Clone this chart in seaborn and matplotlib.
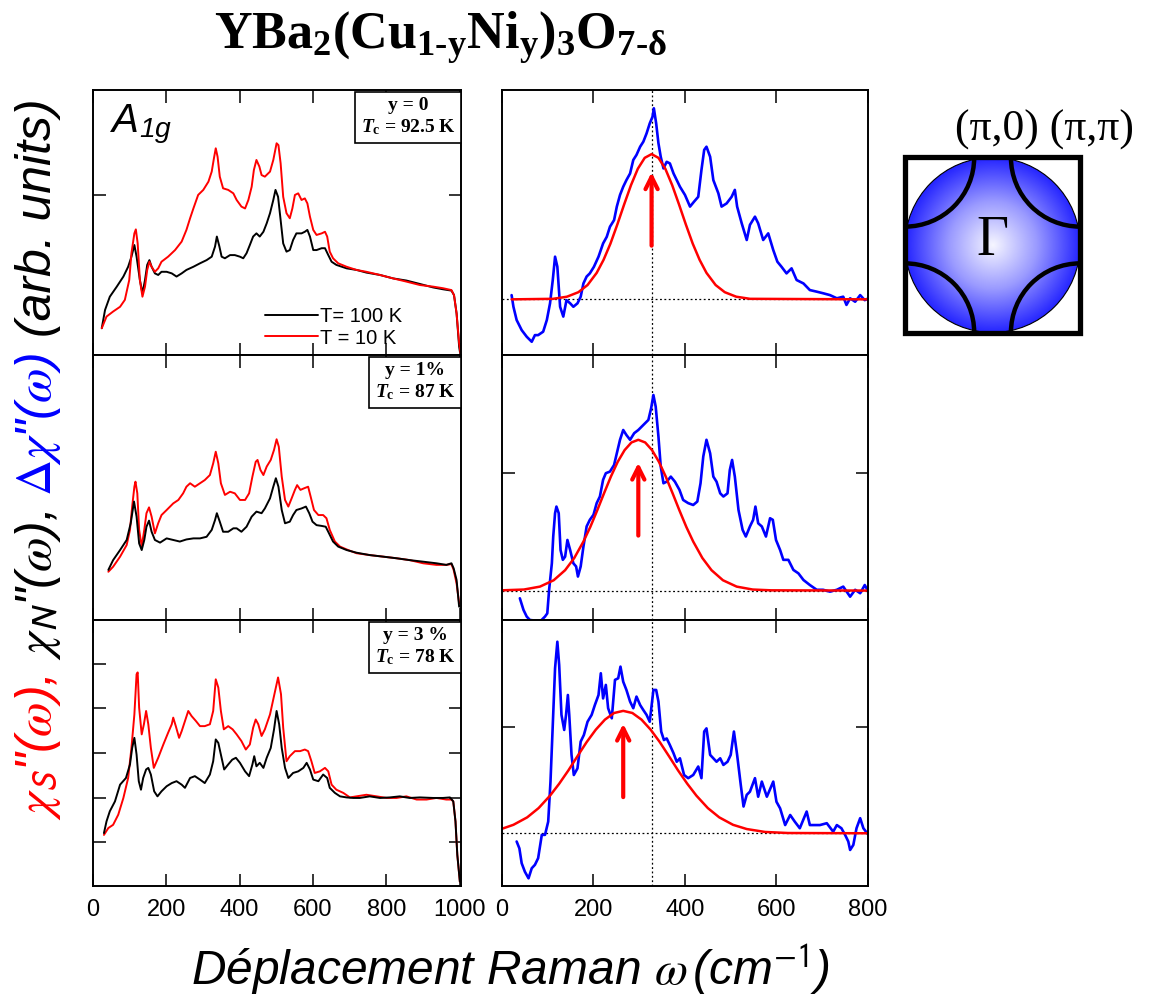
import numpy as np
import matplotlib
matplotlib.use('Agg')
import matplotlib.pyplot as plt
import seaborn as sns
from matplotlib.patches import Circle, Arc, Rectangle
from matplotlib.colors import LinearSegmentedColormap

# ---------------- data ----------------
# x: Raman shift (cm-1), y: arbitrary units

# y = 0 , A1g chi'' at 100 K and 10 K
tl_100k_x = [24, 33, 46, 65, 83, 96, 105, 113, 119, 128, 135, 142, 148, 154, 160, 169, 178, 187, 201, 215,
             228, 242, 255, 274, 292, 310, 324, 333, 338, 345, 351, 360, 374, 387, 401, 410, 419, 428, 437, 446,
             455, 465, 474, 483, 492, 498, 505, 512, 519, 528, 537, 546, 555, 569, 578, 585, 592, 601, 610, 624,
             633, 642, 651, 664, 692, 719, 746, 783, 819, 855, 892, 928, 955, 978, 985, 992, 999, 1001]
tl_100k_y = [1.01, 1.70, 2.20, 2.58, 2.96, 3.33, 3.71, 4.15, 3.71, 2.83, 2.33, 2.83, 3.40, 3.58, 3.33, 3.08, 3.02, 3.14, 3.14, 3.08,
             2.96, 3.08, 3.21, 3.33, 3.46, 3.58, 3.71, 4.09, 4.47, 4.09, 3.71, 3.65, 3.77, 3.77, 3.71, 3.65, 3.84, 4.15, 4.47, 4.59,
             4.47, 4.65, 4.97, 5.35, 5.85, 6.23, 5.97, 5.09, 4.21, 3.90, 3.96, 4.34, 4.59, 4.59, 4.65, 4.72, 4.47, 3.96, 3.96, 4.03,
             4.03, 3.77, 3.52, 3.40, 3.27, 3.21, 3.11, 3.02, 2.89, 2.81, 2.68, 2.55, 2.48, 2.43, 2.26, 1.57, 0.31, 0.13]
tl_10k_x = [24, 37, 55, 74, 87, 99, 105, 113, 117, 122, 128, 135, 142, 148, 154, 160, 169, 178, 187, 205,
            224, 242, 255, 265, 274, 287, 301, 315, 324, 330, 335, 340, 346, 355, 369, 383, 392, 405, 415, 424,
            433, 439, 446, 454, 460, 469, 483, 492, 501, 506, 512, 519, 528, 537, 544, 551, 560, 569, 578, 585,
            592, 601, 610, 624, 633, 639, 646, 655, 669, 692, 719, 746, 783, 819, 855, 892, 928, 955, 978, 985,
            992, 999, 1003]
tl_10k_y = [1.01, 1.45, 1.64, 1.82, 2.08, 2.83, 3.84, 4.59, 4.74, 4.21, 2.83, 2.20, 2.58, 3.21, 3.52, 3.33, 3.14, 3.27, 3.52, 3.71,
            3.96, 4.28, 4.72, 5.16, 5.53, 6.04, 6.23, 6.54, 6.92, 7.42, 7.80, 7.48, 6.73, 6.29, 6.23, 6.10, 5.85, 5.60, 5.53, 5.85,
            6.35, 6.98, 7.36, 7.11, 6.79, 6.73, 6.92, 7.36, 7.99, 7.92, 7.23, 5.97, 5.35, 5.16, 5.53, 6.04, 6.10, 5.85, 5.91, 5.72,
            5.22, 4.72, 4.53, 4.59, 4.65, 4.47, 3.90, 3.65, 3.46, 3.33, 3.21, 3.14, 3.02, 2.89, 2.77, 2.64, 2.58, 2.52, 2.45, 2.26,
            1.57, 0.44, 0.06]

# y = 1 %
ml_100k_x = [42, 55, 74, 92, 103, 112, 119, 126, 133, 140, 146, 153, 160, 169, 183, 201, 219, 237, 255, 274,
             292, 310, 324, 333, 338, 346, 355, 369, 383, 392, 405, 419, 433, 446, 460, 469, 483, 492, 499, 506,
             515, 524, 537, 546, 555, 569, 581, 590, 599, 610, 624, 635, 644, 655, 669, 692, 719, 755, 792, 828,
             864, 901, 937, 964, 978, 984, 992, 999]
ml_100k_y = [1.89, 2.26, 2.64, 3.02, 3.65, 4.47, 3.90, 2.89, 2.64, 3.02, 3.52, 3.75, 3.33, 3.02, 2.92, 3.08, 3.02, 2.96, 3.04, 3.08,
             3.08, 3.14, 3.40, 3.77, 4.03, 3.71, 3.33, 3.33, 3.46, 3.46, 3.33, 3.52, 3.90, 4.09, 4.03, 4.21, 4.59, 5.03, 5.35, 5.03,
             4.15, 3.65, 3.71, 3.96, 4.15, 4.21, 4.28, 4.03, 3.71, 3.58, 3.55, 3.52, 3.27, 2.96, 2.77, 2.64, 2.54, 2.45, 2.39, 2.33,
             2.26, 2.20, 2.14, 2.08, 2.14, 1.95, 1.51, 0.50]
ml_10k_x = [42, 55, 74, 92, 101, 107, 113, 116, 121, 126, 133, 140, 146, 153, 160, 169, 178, 187, 201, 219,
            233, 246, 255, 265, 278, 292, 305, 319, 328, 335, 342, 349, 360, 374, 387, 401, 415, 426, 435, 444,
            449, 457, 465, 474, 485, 494, 501, 507, 515, 524, 533, 542, 551, 557, 566, 576, 587, 594, 603, 615,
            628, 637, 646, 660, 674, 696, 719, 755, 792, 828, 864, 901, 937, 964, 978, 984, 992, 999]
ml_10k_y = [1.82, 2.01, 2.39, 2.83, 3.40, 4.28, 5.03, 5.22, 4.78, 3.40, 2.77, 3.40, 4.03, 4.25, 3.90, 3.27, 3.65, 3.96, 4.15, 4.40,
            4.53, 4.78, 5.03, 5.16, 5.03, 5.16, 5.28, 5.47, 5.91, 6.35, 5.91, 5.16, 4.72, 4.84, 4.78, 4.53, 4.53, 4.78, 5.41, 5.97,
            6.04, 5.66, 5.47, 5.79, 6.04, 6.42, 6.82, 6.54, 5.41, 4.53, 4.28, 4.59, 4.91, 5.09, 4.91, 4.97, 5.03, 4.65, 4.15, 3.96,
            3.96, 3.84, 3.40, 2.96, 2.77, 2.64, 2.52, 2.45, 2.39, 2.33, 2.26, 2.14, 2.08, 2.08, 2.11, 1.89, 1.38, 0.63]

# y = 3 %
bl_100k_x = [30, 37, 46, 60, 74, 90, 101, 107, 113, 119, 125, 131, 137, 145, 151, 158, 167, 176, 187, 201,
             215, 228, 242, 251, 265, 278, 292, 305, 319, 328, 335, 342, 349, 358, 369, 380, 390, 401, 415, 426,
             435, 440, 446, 455, 465, 474, 485, 494, 501, 508, 515, 524, 533, 546, 560, 574, 583, 592, 601, 615,
             628, 639, 646, 660, 674, 692, 710, 728, 755, 783, 810, 837, 864, 892, 928, 955, 974, 983, 989, 994,
             1001]
bl_100k_y = [1.99, 2.43, 2.81, 3.18, 3.81, 4.06, 4.57, 5.19, 5.57, 4.94, 3.94, 3.62, 4.06, 4.38, 4.44, 4.19, 3.56, 3.37, 3.56, 3.75,
             3.87, 3.94, 3.81, 3.69, 4.06, 4.13, 4.00, 3.87, 4.19, 4.69, 5.51, 5.38, 4.94, 4.38, 4.57, 4.75, 4.82, 4.63, 4.31, 4.13,
             4.57, 4.88, 4.50, 4.63, 4.44, 4.82, 5.19, 5.89, 6.58, 6.08, 5.19, 4.44, 4.06, 4.25, 4.31, 4.44, 4.63, 4.38, 4.00, 3.94,
             4.19, 4.06, 3.69, 3.50, 3.37, 3.33, 3.31, 3.31, 3.37, 3.31, 3.33, 3.37, 3.31, 3.33, 3.31, 3.31, 3.33, 3.18, 2.43, 1.17,
             0.16]
bl_10k_x = [30, 42, 55, 69, 83, 96, 105, 113, 119, 122, 126, 133, 139, 145, 151, 158, 166, 178, 192, 205,
            215, 219, 226, 235, 242, 251, 260, 269, 281, 292, 305, 319, 328, 335, 342, 349, 357, 369, 381, 392,
            405, 417, 428, 437, 444, 451, 460, 469, 483, 492, 505, 513, 519, 528, 537, 551, 565, 578, 587, 596,
            605, 619, 633, 642, 651, 664, 683, 701, 719, 746, 774, 801, 828, 855, 883, 910, 937, 964, 978, 983,
            989, 994, 1001]
bl_10k_y = [1.92, 2.18, 2.30, 2.68, 3.31, 4.06, 5.19, 6.45, 7.96, 8.03, 6.70, 5.70, 6.08, 6.58, 6.08, 5.19, 4.44, 4.82, 5.32, 5.76,
            6.08, 6.33, 6.01, 5.57, 5.82, 6.20, 6.58, 6.39, 6.20, 6.01, 6.01, 6.08, 6.58, 7.77, 7.46, 6.58, 5.89, 6.01, 5.89, 5.70,
            5.45, 5.13, 5.32, 5.95, 6.26, 6.08, 5.64, 5.89, 6.45, 7.02, 7.84, 7.21, 5.95, 4.69, 4.88, 5.07, 5.07, 5.13, 5.07, 4.69,
            4.25, 4.31, 4.44, 4.31, 3.81, 3.62, 3.50, 3.33, 3.37, 3.43, 3.37, 3.31, 3.31, 3.37, 3.25, 3.25, 3.31, 3.25, 3.25, 3.18,
            2.43, 1.17, 0.16]

# difference spectra Delta chi'' and their gaussian fits
tr_diff_x = [21, 25, 32, 43, 54, 65, 72, 79, 90, 98, 105, 111, 116, 121, 127, 134, 141, 149, 156, 165,
             172, 178, 185, 192, 201, 211, 221, 229, 236, 245, 251, 258, 265, 272, 280, 287, 294, 302, 309, 316,
             323, 329, 332, 337, 342, 347, 353, 360, 367, 375, 382, 389, 400, 411, 420, 429, 436, 442, 447, 455,
             462, 473, 480, 491, 502, 509, 514, 524, 535, 542, 553, 560, 571, 582, 593, 602, 611, 622, 633, 644,
             659, 673, 688, 702, 717, 732, 746, 753, 761, 772, 783, 793, 801]
tr_diff_y = [0.16, -0.28, -0.78, -1.16, -1.41, -1.60, -1.35, -1.35, -1.22, -0.78, -0.15, 0.73, 1.61, 1.23, -0.28, -0.65, -0.03, -0.15, -0.28, -0.15,
             0.10, 0.60, 0.86, 0.98, 1.23, 1.61, 2.11, 2.36, 2.74, 2.99, 3.50, 3.94, 4.25, 4.50, 4.75, 5.26, 5.45, 5.76, 5.95, 6.26,
             6.64, 6.89, 7.21, 6.64, 5.89, 5.38, 4.94, 5.19, 5.13, 4.75, 4.50, 4.25, 3.94, 3.50, 3.69, 3.87, 4.88, 5.64, 5.76, 5.38,
             4.50, 4.00, 3.50, 3.62, 3.87, 4.13, 3.50, 2.87, 2.24, 2.81, 3.12, 2.87, 2.24, 2.49, 1.86, 1.42, 1.23, 0.98, 1.17, 0.73,
             0.60, 0.35, 0.29, 0.23, 0.16, 0.04, 0.10, -0.21, 0.04, -0.09, 0.16, -0.03, 0.04]
tr_fit_x = [21, 112, 142, 167, 187, 207, 222, 237, 252, 267, 282, 297, 312, 327, 342, 357, 372, 387, 402, 417,
            432, 447, 467, 487, 512, 542, 801]
tr_fit_y = [0, 0.02, 0.10, 0.27, 0.54, 1.00, 1.49, 2.10, 2.82, 3.58, 4.31, 4.93, 5.34, 5.48, 5.34, 4.93, 4.31, 3.58, 2.82, 2.10,
            1.49, 1.00, 0.54, 0.27, 0.10, 0.02, 0]

mr_diff_x = [39, 47, 54, 61, 72, 83, 94, 99, 103, 109, 112, 116, 119, 124, 128, 133, 138, 143, 149, 156,
             162, 166, 172, 178, 185, 192, 200, 207, 214, 221, 227, 236, 245, 251, 258, 265, 272, 280, 289, 298,
             309, 320, 326, 331, 336, 342, 347, 353, 360, 369, 378, 388, 396, 407, 418, 427, 434, 440, 447, 455,
             462, 469, 477, 484, 493, 498, 503, 509, 517, 526, 533, 542, 549, 554, 560, 568, 577, 586, 592, 599,
             608, 615, 626, 637, 648, 659, 673, 688, 702, 717, 732, 746, 761, 772, 783, 793, 801]
mr_diff_y = [-0.29, -0.73, -0.98, -1.11, -1.13, -1.17, -0.98, -0.86, 0.03, 1.03, 2.04, 2.92, 3.17, 2.92, 1.53, 1.16, 1.28, 1.91, 1.53, 1.03,
             0.91, 0.53, 0.91, 1.66, 2.42, 2.67, 2.86, 3.30, 3.55, 4.18, 4.43, 4.49, 4.74, 5.18, 5.69, 6.06, 5.87, 5.69, 5.94, 6.06,
             6.25, 6.44, 6.88, 7.38, 6.94, 5.81, 4.68, 4.05, 4.11, 4.30, 4.11, 3.80, 3.42, 3.30, 3.23, 3.36, 4.05, 5.06, 5.69, 5.18,
             4.30, 4.11, 3.67, 3.55, 3.67, 4.55, 4.93, 4.30, 3.04, 2.29, 2.04, 2.42, 2.67, 3.17, 2.54, 2.42, 2.04, 2.73, 2.67, 1.91,
             1.53, 1.16, 1.16, 0.78, 0.65, 0.40, 0.21, 0.03, 0.03, -0.04, 0.03, 0.15, -0.23, 0.03, -0.10, 0.21, -0.04]
mr_fit_x = [0, 48, 83, 113, 138, 158, 178, 193, 208, 223, 238, 253, 268, 283, 298, 313, 328, 343, 358, 373,
            388, 403, 418, 438, 458, 483, 513, 548, 588, 801]
mr_fit_y = [0.01, 0.04, 0.15, 0.39, 0.77, 1.23, 1.85, 2.40, 3.02, 3.67, 4.30, 4.86, 5.30, 5.59, 5.69, 5.59, 5.30, 4.86, 4.30, 3.67,
            3.02, 2.40, 1.85, 1.23, 0.77, 0.39, 0.15, 0.04, 0.01, 0]

br_diff_x = [32, 38, 43, 50, 58, 65, 72, 79, 87, 94, 101, 106, 111, 116, 121, 125, 130, 136, 140, 144,
             147, 152, 157, 165, 172, 179, 187, 196, 203, 211, 216, 221, 227, 232, 240, 247, 254, 259, 265, 272,
             280, 287, 294, 302, 309, 316, 323, 331, 337, 342, 348, 354, 360, 367, 375, 382, 389, 398, 407, 418,
             429, 436, 442, 447, 455, 462, 469, 477, 484, 493, 500, 507, 514, 522, 528, 535, 542, 553, 560, 568,
             579, 593, 600, 608, 619, 630, 640, 651, 666, 673, 684, 695, 710, 724, 732, 742, 750, 757, 761, 768,
             775, 783, 790, 801]
br_diff_y = [-0.31, -0.57, -1.13, -1.45, -1.70, -1.32, -1.19, -0.94, -0.06, -0.06, 0.44, 1.95, 4.09, 6.23, 7.23, 6.35, 4.47, 3.90, 4.47, 5.22,
             4.47, 2.96, 2.20, 2.45, 3.46, 3.71, 4.21, 4.47, 4.84, 5.22, 6.04, 5.09, 5.60, 4.72, 4.34, 5.79, 5.85, 6.29, 5.72, 5.41,
             4.97, 4.72, 5.16, 4.84, 4.65, 4.47, 4.21, 5.41, 5.41, 4.97, 3.84, 3.52, 3.58, 3.33, 3.02, 2.70, 2.83, 2.20, 2.08, 2.20,
             2.52, 2.08, 3.84, 3.96, 2.96, 2.83, 2.70, 2.83, 2.58, 2.70, 2.96, 3.84, 2.96, 1.82, 1.01, 1.45, 1.57, 2.08, 1.38, 1.95,
             1.38, 1.95, 1.19, 0.94, 0.31, 0.69, 0.44, 0.19, 0.82, 0.31, 0.31, 0.31, 0.38, 0.06, 0.31, 0.19, -0.06, -0.31, -0.63, -0.44,
             0.19, 0.57, 0.19, -0.06]
br_fit_x = [0, 25, 55, 80, 105, 125, 145, 165, 185, 205, 225, 245, 265, 285, 305, 325, 345, 365, 385, 405,
            425, 450, 475, 505, 535, 575, 625, 801]
br_fit_y = [0.17, 0.32, 0.60, 0.95, 1.42, 1.87, 2.37, 2.91, 3.44, 3.91, 4.29, 4.54, 4.62, 4.54, 4.29, 3.91, 3.44, 2.91, 2.37, 1.87,
            1.42, 0.95, 0.60, 0.32, 0.16, 0.05, 0.01, 0]

# gap position (arrow) for each doping, and tail/tip heights of the arrow
gap_pos = [327, 298, 265]
arrow_tail = [1.92, 1.97, 1.26]
arrow_tip = [4.90, 4.93, 4.24]
dotted_pos = 327

doping_labels = ['y = 0', 'y = 1%', 'y = 3 %']
tc_labels = ['92.5 K', '87 K', '78 K']
left_xticks = [0, 200, 400, 600, 800, 1000]
right_xticks = [0, 200, 400, 600, 800]

# ---------------- style ----------------
sns.set_style('ticks')
plt.rcParams['font.family'] = ['Liberation Sans', 'DejaVu Sans']
plt.rcParams['mathtext.fontset'] = 'custom'
plt.rcParams['mathtext.rm'] = 'Liberation Serif:bold'
plt.rcParams['mathtext.it'] = 'Liberation Serif:italic:bold'
plt.rcParams['mathtext.bf'] = 'Liberation Serif:bold'
plt.rcParams['mathtext.sf'] = 'Liberation Sans:italic'
plt.rcParams['axes.edgecolor'] = 'black'
plt.rcParams['text.color'] = 'black'
plt.rcParams['xtick.color'] = 'black'
plt.rcParams['ytick.color'] = 'black'
plt.rcParams['xtick.labelcolor'] = 'black'

fig = plt.figure(figsize=(11.49, 10), dpi=100)

row_bottoms = [0.645, 0.380, 0.114]
row_heights = [0.265, 0.265, 0.266]
left_axes = [fig.add_axes([0.0809, b, 0.3203, h]) for b, h in zip(row_bottoms, row_heights)]
right_axes = [fig.add_axes([0.4369, b, 0.3185, h]) for b, h in zip(row_bottoms, row_heights)]

left_data = [(tl_100k_x, tl_100k_y, tl_10k_x, tl_10k_y),
             (ml_100k_x, ml_100k_y, ml_10k_x, ml_10k_y),
             (bl_100k_x, bl_100k_y, bl_10k_x, bl_10k_y)]
right_data = [(tr_diff_x, tr_diff_y, tr_fit_x, tr_fit_y),
              (mr_diff_x, mr_diff_y, mr_fit_x, mr_fit_y),
              (br_diff_x, br_diff_y, br_fit_x, br_fit_y)]
right_ylims = [(-2.1, 7.9), (-1.11, 8.89), (-1.99, 8.05)]
left_yticks = [[6.04], [], [1.66, 3.32, 5.0, 6.68, 8.34]]
right_yticks = [[], [4.44], [4.0]]


def style_panel(ax, bottom_labels):
    ax.tick_params(direction='in', top=True, right=True, length=9, width=1.1, colors='black',
                   labelbottom=bottom_labels, labelleft=False, labelsize=17, pad=9)
    for s in ax.spines.values():
        s.set_linewidth(1.4)
        s.set_color('black')
    ax.set_xlabel('')
    ax.set_ylabel('')


for i, ax in enumerate(left_axes):
    kx, ky, rx, ry = left_data[i]
    if i == 0:
        sns.lineplot(x=kx, y=ky, ax=ax, color='black', linewidth=1.4, sort=False, estimator=None, label='T= 100 K')
        sns.lineplot(x=rx, y=ry, ax=ax, color='#ff0000', linewidth=1.4, sort=False, estimator=None, label='T = 10 K')
        ax.legend(loc='lower left', bbox_to_anchor=(0.43, -0.025), frameon=False, fontsize=14.5,
                  handlelength=2.6, handletextpad=0.1, labelspacing=0.12, borderpad=0.2)
        ax.text(0.045, 0.95, r'$\mathsf{A}_{\mathsf{1g}}$', transform=ax.transAxes, fontsize=29, va='top', ha='left',
                math_fontfamily='custom')
    else:
        sns.lineplot(x=rx, y=ry, ax=ax, color='#ff0000', linewidth=1.4, sort=False, estimator=None)
        sns.lineplot(x=kx, y=ky, ax=ax, color='black', linewidth=1.4, sort=False, estimator=None)
    ax.set_xlim(0, 1004)
    ax.set_ylim(0, 10)
    ax.set_xticks(left_xticks)
    ax.set_yticks(left_yticks[i])
    style_panel(ax, i == 2)
    ax.text(0.985, 0.972, doping_labels[i] + '\n' + r'$T_{\mathrm{c}}$ = ' + tc_labels[i],
            transform=ax.transAxes, ha='right', va='top', fontsize=14, fontweight='bold',
            family='Liberation Serif', math_fontfamily='custom', multialignment='center',
            bbox=dict(boxstyle='square,pad=0.3', fc='white', ec='black', lw=1.2), zorder=5)

for i, ax in enumerate(right_axes):
    dx, dy, fx, fy = right_data[i]
    ax.axhline(0, color='black', lw=0.9, ls=(0, (1.5, 2)), zorder=1)
    ax.axvline(dotted_pos, color='black', lw=0.9, ls=(0, (1.5, 2)), zorder=1)
    sns.lineplot(x=dx, y=dy, ax=ax, color='#0000ff', linewidth=1.9, sort=False, estimator=None)
    sns.lineplot(x=fx, y=fy, ax=ax, color='#ff0000', linewidth=1.8, sort=False, estimator=None)
    ax.annotate('', xy=(gap_pos[i], arrow_tip[i]), xytext=(gap_pos[i], arrow_tail[i]),
                arrowprops=dict(arrowstyle='->', color='#ff0000', lw=3, mutation_scale=22))
    ax.set_xlim(0, 800)
    ax.set_ylim(*right_ylims[i])
    ax.set_xticks(right_xticks)
    ax.set_yticks(right_yticks[i])
    style_panel(ax, i == 2)

# ---------------- Fermi surface sketch ----------------
fs = fig.add_axes([0.779, 0.655, 0.1697, 0.2])
fs.set_xlim(-1.114, 1.114)
fs.set_ylim(-1.111, 1.111)
fs.axis('off')
g = np.linspace(-1, 1, 300)
gx, gy = np.meshgrid(g, g)
rr = np.sqrt(gx ** 2 + gy ** 2)
cmap = LinearSegmentedColormap.from_list('fs', ['#f6f6ff', '#9a9aff', '#2424ff'])
im = fs.imshow(rr, extent=(-1, 1, -1, 1), cmap=cmap, vmin=0, vmax=1, origin='lower', zorder=1)
disk = Circle((0, 0), 1, transform=fs.transData)
im.set_clip_path(disk)
fs.add_patch(Circle((0, 0), 1, fill=False, ec='black', lw=0.8, zorder=2))
for (cx, cy), (t1, t2) in zip([(-1, 1), (1, 1), (-1, -1), (1, -1)],
                              [(270, 360), (180, 270), (0, 90), (90, 180)]):
    fs.add_patch(Arc((cx, cy), 1.58, 1.58, theta1=t1, theta2=t2, color='black', lw=3.2, zorder=3))
fs.add_patch(Rectangle((-1, -1), 2, 2, fill=False, ec='black', lw=3.8, zorder=4))
fs.text(0.0, 0.05, '\u0393', ha='center', va='center', fontsize=40, family='Liberation Serif')
fig.text(0.9086, 0.87, '(\u03c0,0) (\u03c0,\u03c0)', ha='center', va='center', fontsize=31.5,
         family='Liberation Serif')

# ---------------- titles and labels ----------------
fig.text(0.383, 0.962, r'$\mathrm{YBa_2(Cu_{\text{1-y}}Ni_y)_3O_{\text{7-}\delta}}$', ha='center', va='center',
         fontsize=37.5, math_fontfamily='custom')
fig.text(0.444, 0.03, r'Déplacement Raman $\omega\,$(cm$^{\mathsf{-1}}$)', ha='center', va='center',
         fontsize=34.5, style='italic', math_fontfamily='stix')

# multi-coloured vertical label, pieces placed one after the other
renderer = fig.canvas.get_renderer()
ylabel_parts = [(r'$\chi_\mathsf{S}$"($\omega$),', '#ff0000'),
                (r'$\chi_\mathsf{N}$"($\omega$),', 'black'),
                (r'$\Delta\chi$"($\omega$)', '#0000ff'),
                ('(arb. units)', 'black')]
ypos = 0.18
for txt, col in ylabel_parts:
    t = fig.text(0.0445, ypos, txt, rotation=90, rotation_mode='anchor', ha='left', va='baseline',
                 color=col, fontsize=36, style='italic', math_fontfamily='stix')
    bb = t.get_window_extent(renderer)
    ypos = bb.y1 / fig.bbox.height + 15 / fig.bbox.height

fig.savefig('out.png', dpi=100)
